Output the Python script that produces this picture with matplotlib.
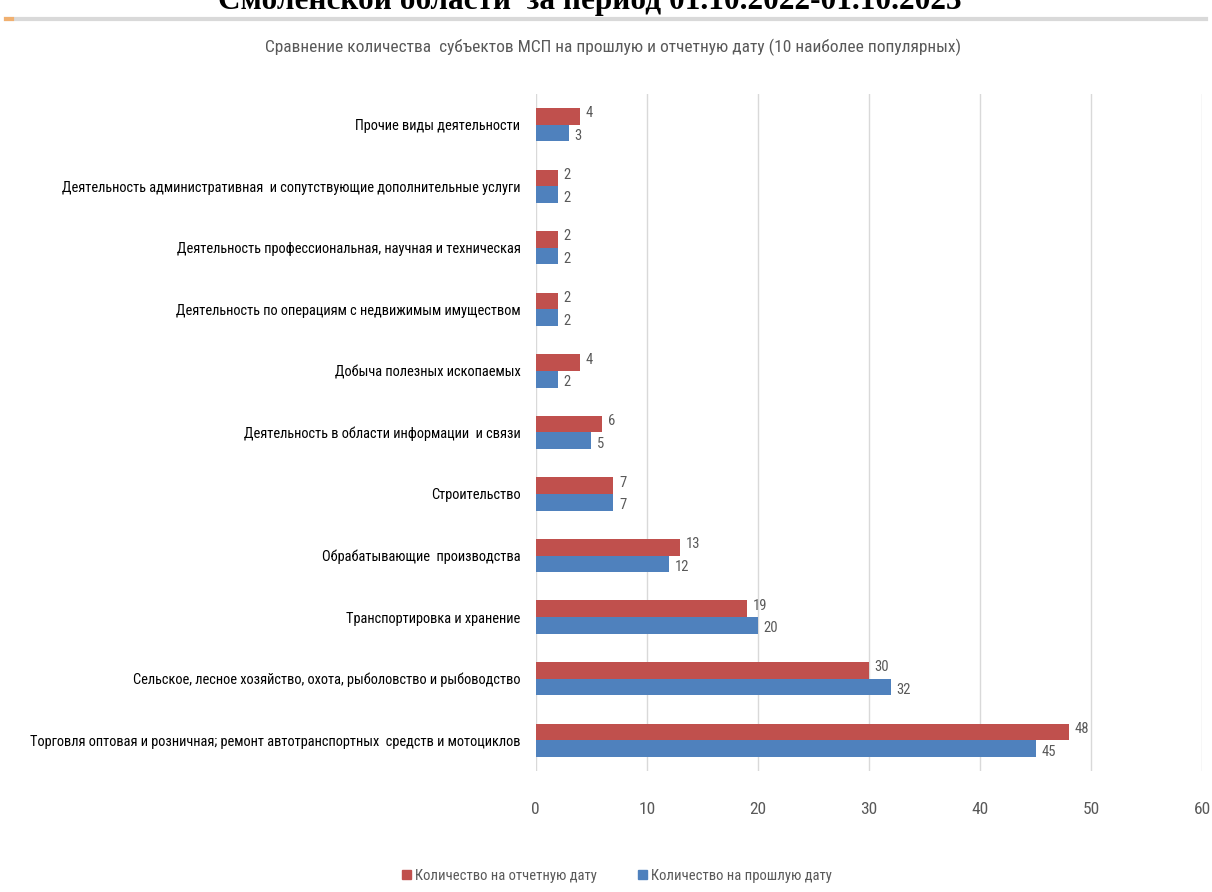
import matplotlib
matplotlib.use("Agg")
import matplotlib.pyplot as plt
from matplotlib.lines import Line2D
from matplotlib.patches import Patch
import numpy as np

narrow = ['Roboto Condensed', 'PT Sans Narrow', 'Open Sans Condensed', 'DejaVu Sans']
plt.rcParams['font.family'] = narrow

# === ДАННЫЕ ===
categories = [
    "Торговля оптовая и розничная; ремонт автотранспортных  средств и мотоциклов",
    "Сельское, лесное хозяйство, охота, рыболовство и рыбоводство",
    "Транспортировка и хранение",
    "Обрабатывающие  производства",
    "Строительство",
    "Деятельность в области информации  и связи",
    "Добыча полезных ископаемых",
    "Деятельность по операциям с недвижимым имуществом",
    "Деятельность профессиональная, научная и техническая",
    "Деятельность административная  и сопутствующие дополнительные услуги",
    "Прочие виды деятельности",
]
current = [48, 30, 19, 13, 7, 6, 4, 2, 2, 2, 4]
previous = [45, 32, 20, 12, 7, 5, 2, 2, 2, 2, 3]
x_ticks = [0, 10, 20, 30, 40, 50, 60]

red = "#C0504D"
blue = "#4F81BD"
gray = "#595959"

fig = plt.figure(figsize=(12.12, 8.92), dpi=100)

# обрезанный заголовок сверху (в оригинале срезан краем)
fig.text(0.487, 0.999, "Смоленской области  за период 01.10.2022-01.10.2023",
         ha="center", va="center", fontsize=22.5, fontweight="bold",
         family="Liberation Serif", color="black")
fig.add_artist(Line2D([0.005, 0.995], [0.979, 0.979], color="#d9d9d9", lw=3,
                      transform=fig.transFigure))
fig.add_artist(Line2D([0.005, 0.01], [0.979, 0.979], color="#f0b070", lw=3,
                      transform=fig.transFigure))

fig.text(0.506, 0.947,
         "Сравнение количества  субъектов МСП на прошлую и отчетную дату (10 наиболее популярных)",
         ha="center", va="center", fontsize=12.5, color=gray)

ax = fig.add_axes([0.442, 0.1357, 0.550, 0.759])
y = np.arange(len(categories))
h = 0.27
ax.barh(y + h / 2, current, height=h, color=red, zorder=3)
ax.barh(y - h / 2, previous, height=h, color=blue, zorder=3)

for yi, c, p in zip(y, current, previous):
    ax.text(c + 0.5, yi + h / 2 + 0.05, str(c), va="center", ha="left", fontsize=10.5, color=gray)
    ax.text(p + 0.5, yi - h / 2 - 0.05, str(p), va="center", ha="left", fontsize=10.5, color=gray)

ax.set_xlim(0, 60)
ax.set_ylim(-0.5, len(categories) - 0.5)
ax.set_xticks(x_ticks)
ax.set_yticks(y)
ax.set_yticklabels(categories, fontsize=10.35, color="black")
ax.tick_params(axis="x", length=0, pad=22, labelsize=12.5, labelcolor=gray)
ax.tick_params(axis="y", length=0, pad=11)
ax.grid(axis="x", color="#d9d9d9", lw=1, zorder=0)
for s in ax.spines.values():
    s.set_visible(False)

handles = [Patch(color=red, label="Количество на отчетную дату"),
           Patch(color=blue, label="Количество на прошлую дату")]
fig.legend(handles=handles, loc="center", bbox_to_anchor=(0.509, 0.018), ncol=2,
           frameon=False, fontsize=10.5, handlelength=0.6, handleheight=0.6,
           handletextpad=0.3, columnspacing=2.8, labelcolor=gray)

fig.savefig("out.png", dpi=100)
